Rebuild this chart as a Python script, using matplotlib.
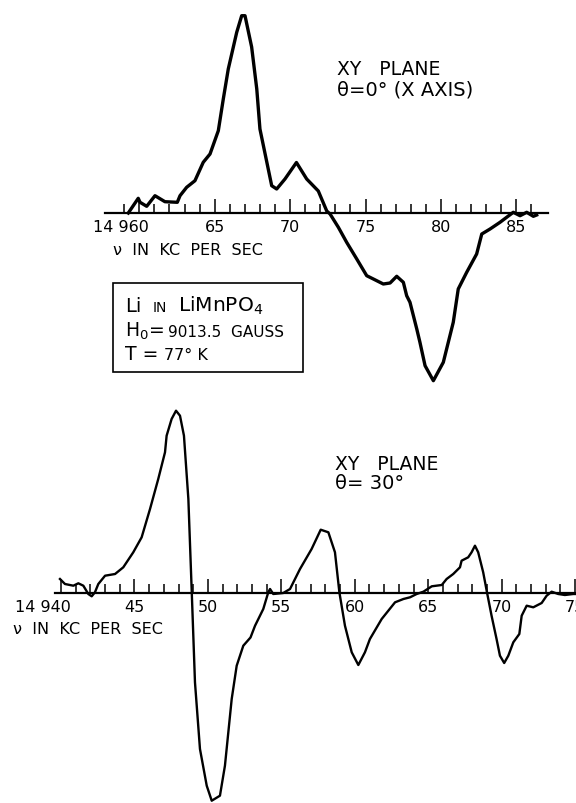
import matplotlib
matplotlib.use("Agg")
import matplotlib.pyplot as plt
from matplotlib.patches import Rectangle
from matplotlib.transforms import ScaledTranslation

# upper trace: theta = 0 deg (X axis), frequency in kc/s, signal in arbitrary units
top_freq = [14959.27, 14959.93, 14960.05, 14960.49, 14961.04, 14961.70, 14962.52, 14962.70,
            14963.14, 14963.69, 14964.24, 14964.69, 14965.24, 14965.57, 14965.90, 14966.46,
            14966.79, 14967.01, 14967.45, 14967.79, 14968.00, 14968.78, 14969.11, 14969.66,
            14970.42, 14971.10, 14971.87, 14972.43, 14972.65, 14973.20, 14973.75, 14974.42,
            14975.08, 14975.52, 14976.18, 14976.63, 14977.07, 14977.51, 14977.73, 14977.95,
            14978.40, 14978.61, 14978.95, 14979.50, 14980.16, 14980.82, 14981.15, 14981.71,
            14982.37, 14982.71, 14983.26, 14983.92, 14984.36, 14984.80, 14985.25, 14985.69,
            14986.13, 14986.35]
top_signal = [0, 14.7, 10.7, 6.7, 17.3, 11.3, 10.7, 17.3,
              25.7, 32.3, 50.7, 59, 82.3, 114, 144, 180.7,
              197.3, 197.3, 166, 124, 84, 27.3, 24, 34,
              50.5, 34, 22, 2, -1, -14.3, -29.3, -46,
              -62.7, -66, -71, -70, -63.3, -69.3, -82.7, -89.3,
              -116, -129.3, -152.7, -167.7, -149.3, -109.3, -76, -59.3,
              -41, -21, -16, -9.3, -4.3, 0.7, -2.7, 0.7,
              -3.3, -2]

# lower trace: theta = 30 deg
bottom_freq = [14939.93, 14940.27, 14940.84, 14941.18, 14941.52, 14941.86, 14942.09, 14942.31,
               14942.54, 14943.00, 14943.68, 14944.24, 14944.92, 14945.49, 14946.06, 14946.62,
               14947.08, 14947.19, 14947.53, 14947.83, 14948.10, 14948.37, 14948.67, 14948.90,
               14949.12, 14949.46, 14949.92, 14950.26, 14950.82, 14951.16, 14951.62, 14951.96,
               14952.41, 14952.90, 14953.21, 14953.77, 14954.11, 14954.23, 14954.45, 14955.13,
               14955.59, 14956.27, 14957.06, 14957.68, 14958.20, 14958.65, 14958.95, 14959.33,
               14959.79, 14960.24, 14960.69, 14961.03, 14961.83, 14962.74, 14963.31, 14963.76,
               14964.21, 14964.67, 14965.24, 14965.92, 14966.25, 14966.70, 14967.16, 14967.27,
               14967.72, 14967.95, 14968.18, 14968.40, 14968.74, 14969.02, 14969.31, 14969.65,
               14969.88, 14970.17, 14970.45, 14970.79, 14971.20, 14971.36, 14971.70, 14972.15,
               14972.72, 14973.06, 14973.40, 14973.85, 14974.30, 14974.87, 14975.10]
bottom_signal = [13.5, 8.5, 6.8, 9.2, 6.8, -1.5, -3.8, 0.2,
                 8.5, 16.8, 18.5, 25.2, 40.2, 55.2, 83.5, 113.5,
                 140.2, 156.8, 173.5, 181.8, 176.8, 156.8, 93.5, 0.8,
                 -89.8, -156.5, -193.2, -208.2, -203.2, -173.2, -106.5, -73.2,
                 -53.2, -45, -33.2, -16.5, 0.2, 3.5, -1.5, -0.5,
                 3.5, 23.5, 43.5, 62.8, 60.2, 40.2, 0.2, -33.2,
                 -59.8, -72.5, -59.8, -46.5, -26.5, -9.8, -6.5, -4.8,
                 -1.5, 0.8, 6.2, 7.5, 13.5, 18.5, 25.2, 31.8,
                 35.2, 40.2, 46.8, 40.2, 20.2, -1.5, -23.2, -46.5,
                 -63.2, -70.5, -63.2, -49.8, -41.5, -23.2, -13.2, -14.8,
                 -10.5, -3.2, 0.8, -1.5, -2.5, -1.5, -1.5]

top_major = [14960, 14965, 14970, 14975, 14980, 14985]
top_labels = ["14 960", "65", "70", "75", "80", "85"]
top_minor = list(range(14959, 14987))
bottom_major = [14940, 14945, 14950, 14955, 14960, 14965, 14970, 14975]
bottom_labels = ["14 940", "45", "50", "55", "60", "65", "70", "75"]
bottom_minor = list(range(14940, 14976))

W, H = 576, 804
fig = plt.figure(figsize=(W / 100, H / 100), dpi=100)
plt.rcParams["font.family"] = ["DejaVu Sans"]


def panel(y0, y1, axis_y, ref_freq, ref_px, px_per_kc, span, major, labels, minor):
    ax = fig.add_axes([0, 1 - y1 / H, 1, (y1 - y0) / H])
    ax.set_xlim(ref_freq - ref_px / px_per_kc, ref_freq + (W - ref_px) / px_per_kc)
    ax.set_ylim(axis_y - y1, axis_y - y0)
    ax.patch.set_visible(False)
    for s in ["top", "right", "left"]:
        ax.spines[s].set_visible(False)
    sp = ax.spines["bottom"]
    sp.set_position(("data", 0))
    sp.set_bounds(*span)
    sp.set_linewidth(1.6)
    ax.set_yticks([])
    ax.set_xticks(major)
    ax.set_xticklabels(labels)
    ax.set_xticks(minor, minor=True)
    ax.tick_params(axis="x", which="major", direction="in", length=10, width=1.1,
                   pad=4.5, labelsize=11.5)
    ax.tick_params(axis="x", which="minor", direction="in", length=6.5, width=1.1)
    first = ax.get_xticklabels()[0]
    first.set_horizontalalignment("right")
    first.set_transform(first.get_transform() + ScaledTranslation(0.1, 0, fig.dpi_scale_trans))
    return ax


ax1 = panel(0, 400, 214, 14960, 139.3, 15.08, (14957.7, 14987.1),
            top_major, top_labels, top_minor)
ax1.plot(top_freq, top_signal, color="black", lw=2.4, solid_joinstyle="round")

ax2 = panel(400, 804, 593.5, 14940, 61, 14.69, (14939.6, 14980),
            bottom_major, bottom_labels, bottom_minor)
ax2.plot(bottom_freq, bottom_signal, color="black", lw=1.7, solid_joinstyle="round")


def ftext(x, y, s, size, **kw):
    fig.text(x / W, 1 - y / H, s, fontsize=size, va="baseline", **kw)


ftext(337, 75, "XY   PLANE", 13.5)
ftext(337, 95, "θ=0° (X AXIS)", 14)
ftext(113, 255, "ν  IN  KC  PER  SEC", 11.5)

ftext(335, 470, "XY   PLANE", 13.5)
ftext(335, 489, "θ= 30°", 14)
ftext(13, 634, "ν  IN  KC  PER  SEC", 11.5)

fig.patches.append(Rectangle((113 / W, 1 - 373 / H), 190 / W, 89 / H, fill=False,
                             lw=1.2, edgecolor="black", transform=fig.transFigure))
ftext(125, 312, "Li", 14)
ftext(153, 312, "IN", 10)
ftext(178, 312, "LiMnPO$_4$", 14.5)
ftext(125, 337, "H$_0$=", 13.5)
ftext(168, 337, "9013.5  GAUSS", 11)
ftext(125, 360, "T =", 13.5)
ftext(164, 360, "77° K", 11.5)

fig.savefig("out.png", dpi=100)
